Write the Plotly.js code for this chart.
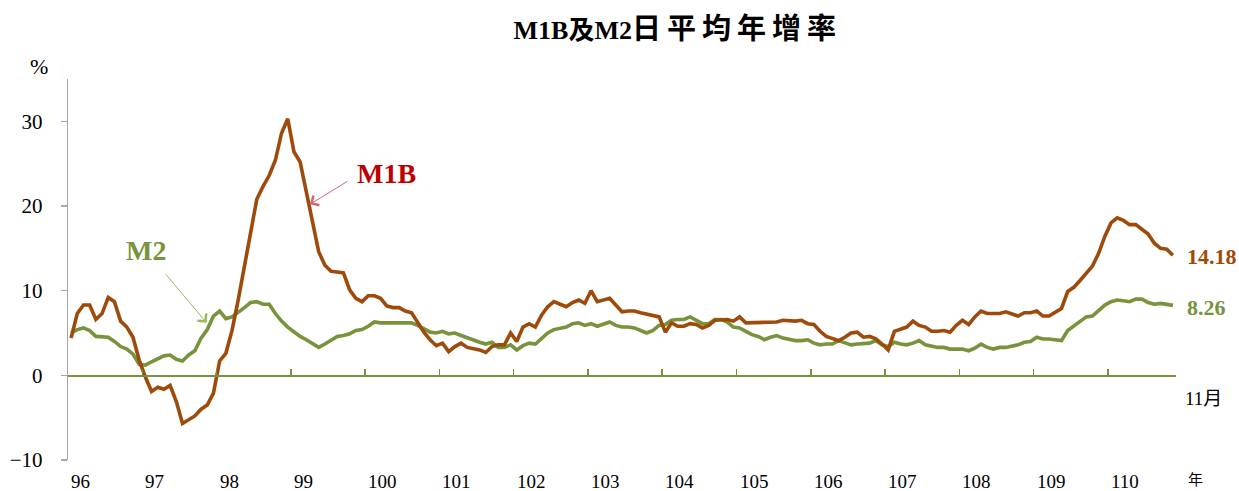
<!DOCTYPE html>
<html><head><meta charset="utf-8">
<script src="https://cdn.plot.ly/plotly-3.0.1.min.js"></script>
<style>html,body{margin:0;padding:0;background:#fff}</style>
</head><body>
<div id="chart" style="width:1239px;height:491px"></div>
<script>
// Years (ROC calendar), monthly data Jan 96 .. Nov 110
const yearLabels = ['96','97','98','99','100','101','102','103','104','105','106','107','108','109','110'];
const lastMonthLabel = '11月';

const m1b = [
  4.4, 7.3, 8.3, 8.3, 6.6, 7.3, 9.2, 8.7, 6.4, 5.7, 4.5, 1.8,
  -0.2, -1.9, -1.4, -1.65, -1.2, -3.1, -5.7, -5.3, -4.8, -4.0, -3.5, -2.1,
  1.7, 2.6, 5.3, 8.9, 12.8, 16.8, 20.8, 22.3, 23.6, 25.4, 28.6, 30.3,
  26.4, 25.2, 21.5, 17.9, 14.6, 13.0, 12.3, 12.2, 12.1, 10.1, 9.1, 8.7,
  9.4, 9.4, 9.1, 8.2, 8.0, 8.0, 7.6, 7.4, 6.2, 5.1, 4.2, 3.5,
  3.8, 2.8, 3.4, 3.8, 3.3, 3.2, 3.0, 2.7, 3.4, 3.6, 3.6, 5.0,
  4.0, 5.7, 6.1, 5.7, 7.1, 8.1, 8.7, 8.4, 8.1, 8.6, 8.9, 8.5,
  10.0, 8.7, 8.9, 9.1, 8.3, 7.5, 7.6, 7.6, 7.4, 7.2, 7.0, 6.9,
  5.1, 6.2, 5.8, 5.8, 6.1, 6.0, 5.6, 5.9, 6.5, 6.6, 6.6, 6.4,
  6.9, 6.2, 6.2, 6.3, 6.3, 6.2, 6.3, 6.5, 6.4, 6.4, 6.5, 6.1,
  6.0, 5.2, 4.6, 4.3, 4.1, 4.5, 5.0, 5.1, 4.5, 4.6, 4.3, 3.7,
  3.0, 5.2, 5.5, 5.7, 6.4, 5.9, 5.7, 5.2, 5.2, 5.3, 5.1, 5.9,
  6.5, 6.0, 6.9, 7.6, 7.3, 7.3, 7.3, 7.5, 7.3, 7.0, 7.4, 7.4,
  7.6, 7.0, 7.0, 7.5, 7.9, 9.9, 10.4, 11.2, 12.1, 12.9, 14.4, 16.4,
  18.0, 18.6, 18.3, 17.8, 17.8, 17.3, 16.7, 15.6, 15.0, 14.9, 14.18
];

const m2 = [
  5.0, 5.4, 5.6, 5.3, 4.6, 4.5, 4.5, 4.0, 3.4, 3.1, 2.5, 1.3,
  1.2, 1.6, 2.0, 2.3, 2.4, 1.9, 1.7, 2.4, 2.9, 4.4, 5.4, 7.0,
  7.6, 6.7, 6.9, 7.4, 8.0, 8.6, 8.7, 8.4, 8.4, 7.3, 6.4, 5.7,
  5.1, 4.6, 4.2, 3.8, 3.3, 3.7, 4.1, 4.6, 4.7, 4.9, 5.3, 5.4,
  5.8, 6.3, 6.2, 6.2, 6.3, 6.2, 6.3, 6.2, 5.9, 5.5, 5.1, 5.0,
  5.2, 4.9, 5.0, 4.7, 4.4, 4.2, 3.9, 3.7, 3.9, 3.3, 3.3, 3.6,
  3.0, 3.5, 3.8, 3.7, 4.4, 5.0, 5.4, 5.5, 5.7, 6.1, 6.2, 5.9,
  6.1, 5.8, 6.0, 6.3, 5.9, 5.7, 5.7, 5.6, 5.3, 5.0, 5.3, 5.9,
  6.0, 6.5, 6.6, 6.6, 6.9, 6.5, 6.1, 6.1, 6.6, 6.6, 6.3, 5.7,
  5.6, 5.2, 4.8, 4.6, 4.2, 4.5, 4.7, 4.4, 4.2, 4.1, 4.1, 4.2,
  3.8, 3.6, 3.7, 3.7, 4.1, 3.8, 3.6, 3.7, 3.7, 3.8, 4.1, 3.6,
  3.4, 3.9, 3.7, 3.6, 3.8, 4.1, 3.6, 3.4, 3.3, 3.3, 3.1, 3.1,
  3.1, 2.9, 3.2, 3.7, 3.3, 3.1, 3.3, 3.3, 3.4, 3.6, 3.9, 4.0,
  4.5, 4.3, 4.3, 4.2, 4.1, 5.3, 5.8, 6.4, 6.9, 7.0, 7.6, 8.3,
  8.7, 8.9, 8.8, 8.7, 9.0, 9.0, 8.6, 8.4, 8.5, 8.4, 8.26
];

const yTicks = [-10, 0, 10, 20, 30];

const C_M1B = '#9E4A0A';
const C_M2 = '#77933C';
const SERIF = '"Liberation Serif", "Times New Roman", "Noto Sans CJK TC", serif';

const xIdx = m1b.map((_, i) => i);
const nMonths = m1b.length;
const yearStarts = yearLabels.map((_, k) => 12 * k - 0.5);

const traces = [
  { x: xIdx, y: m2, type: 'scatter', mode: 'lines', name: 'M2',
    line: { color: C_M2, width: 3.6 }, hoverinfo: 'skip' },
  { x: xIdx, y: m1b, type: 'scatter', mode: 'lines', name: 'M1B',
    line: { color: C_M1B, width: 3.6 }, hoverinfo: 'skip' }
];

const annotations = [];
yearLabels.forEach((lab, k) => {
  annotations.push({ x: yearStarts[k], xref: 'x', y: 0, yref: 'paper',
    text: lab, showarrow: false, xanchor: 'left', yanchor: 'middle',
    xshift: 1, yshift: -21, font: { family: SERIF, size: 19, color: '#000' } });
});
annotations.push({ x: 1.018, xref: 'paper', y: -0.0551, yref: 'paper', text: '年',
  showarrow: false, xanchor: 'center', yanchor: 'middle', yshift: 2,
  font: { family: '"Noto Sans CJK TC", serif', size: 15, color: '#000' } });
annotations.push({ x: 1.0244, xref: 'paper', y: 0.1627, yref: 'paper', text: lastMonthLabel,
  showarrow: false, xanchor: 'center', yanchor: 'middle',
  font: { family: SERIF, size: 19, color: '#000' } });
annotations.push({ x: -0.0262, xref: 'paper', y: 1.034, yref: 'paper', text: '%',
  showarrow: false, xanchor: 'center', yanchor: 'middle',
  font: { family: SERIF, size: 22, color: '#000' } });
// end values
annotations.push({ x: nMonths - 1, xref: 'x', y: m1b[nMonths - 1], yref: 'y',
  text: '<b>' + m1b[nMonths - 1].toFixed(2) + '</b>', showarrow: false,
  xanchor: 'left', yanchor: 'middle', xshift: 12, yshift: -1,
  font: { family: SERIF, size: 22, color: C_M1B } });
annotations.push({ x: nMonths - 1, xref: 'x', y: m2[nMonths - 1], yref: 'y',
  text: '<b>' + m2[nMonths - 1].toFixed(2) + '</b>', showarrow: false,
  xanchor: 'left', yanchor: 'middle', xshift: 12, yshift: -2,
  font: { family: SERIF, size: 22, color: C_M2 } });
// series labels
annotations.push({ x: (146 - 68) / 1108, xref: 'paper', y: (460 - 250) / 381, yref: 'paper',
  text: '<b>M2</b>', showarrow: false, xanchor: 'center', yanchor: 'middle',
  font: { family: SERIF, size: 28, color: C_M2 } });
annotations.push({ x: (386 - 68) / 1108, xref: 'paper', y: (460 - 173) / 381, yref: 'paper',
  text: '<b>M1B</b>', showarrow: false, xanchor: 'center', yanchor: 'middle',
  font: { family: SERIF, size: 28, color: '#C00000' } });
// arrows
annotations.push({ x: 21.9, xref: 'x', y: 6.2, yref: 'y', text: '', showarrow: true,
  ax: -42, ay: -50, axref: 'pixel', ayref: 'pixel', arrowhead: 4, arrowsize: 2.2,
  arrowwidth: 1, arrowcolor: '#9BBB59', standoff: 0 });
annotations.push({ x: 38.6, xref: 'x', y: 20.2, yref: 'y', text: '', showarrow: true,
  ax: 39, ay: -24, axref: 'pixel', ayref: 'pixel', arrowhead: 4, arrowsize: 2.2,
  arrowwidth: 1, arrowcolor: '#E06070', standoff: 0 });

const layout = {
  width: 1239, height: 491,
  margin: { l: 68, r: 63, t: 79, b: 31, pad: 0 },
  paper_bgcolor: '#fff', plot_bgcolor: '#fff',
  showlegend: false,
  title: {
    text: 'M1B及M2<span style="font-size:29px;letter-spacing:6px">日平均年增率</span>',
    x: 0.547, xref: 'container', xanchor: 'center',
    y: 0.939, yref: 'container', yanchor: 'middle',
    font: { family: SERIF, size: 26, weight: 700, color: '#000' }
  },
  xaxis: {
    range: [-0.5, nMonths - 0.5], anchor: 'free', position: 10 / 45,
    showline: true, linecolor: C_M2, linewidth: 1.5,
    ticks: 'inside', tickvals: yearStarts, ticklen: 6, tickcolor: C_M2, tickwidth: 1.5,
    showticklabels: false, showgrid: false, zeroline: false, fixedrange: true
  },
  yaxis: {
    range: [-10, 35], showline: true, linecolor: '#A6A6A6', linewidth: 1.3,
    ticks: 'outside', tickvals: yTicks, ticklen: 6, tickcolor: '#A6A6A6', tickwidth: 1.3,
    ticklabelstandoff: 14,
    tickfont: { family: SERIF, size: 21, color: '#000' },
    showgrid: false, zeroline: false, fixedrange: true
  },
  annotations: annotations
};

Plotly.newPlot('chart', traces, layout, { staticPlot: true, displayModeBar: false });
</script>
</body></html>
